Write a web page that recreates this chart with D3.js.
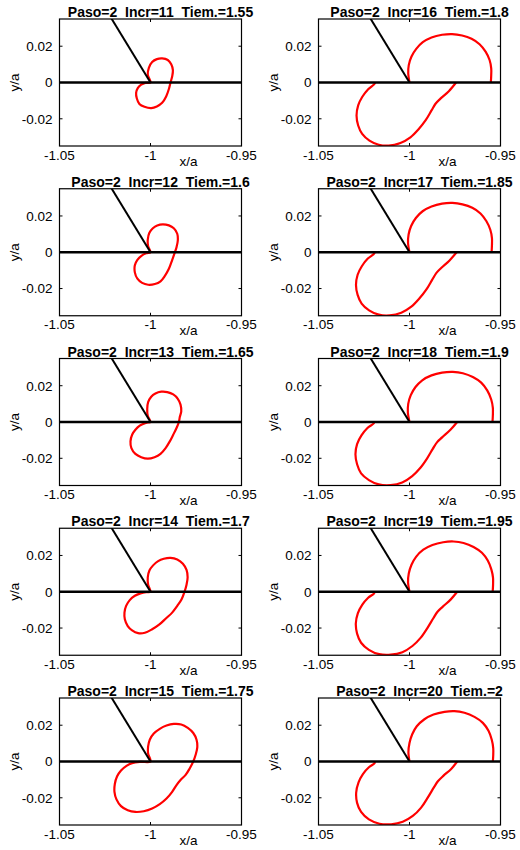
<!DOCTYPE html>
<html>
<head>
<meta charset="utf-8">
<script src="https://cdn.jsdelivr.net/npm/d3@7"></script>
<style>
  body { margin: 0; background: #fff; }
  svg { display: block; font-family: "Liberation Sans", Arial, sans-serif; }
</style>
</head>
<body>
<svg id="chart"></svg>
<script>
const WIDTH = 520
const HEIGHT = 850

const paso = 2
const incrs = [11, 12, 13, 14, 15, 16, 17, 18, 19, 20]
const tiems = ["1.55", "1.6", "1.65", "1.7", "1.75", "1.8", "1.85", "1.9", "1.95", "2"]

const xTicks = [-1.05, -1, -0.95]
const xTickLabels = ["-1.05", "-1", "-0.95"]
const yTicks = [-0.02, 0, 0.02]
const yTickLabels = ["-0.02", "0", "0.02"]

// crack: straight line along y=0 plus the kinked branch from the tip
const crackMain = [[-1.05, 0], [-0.95, 0]]
const crackBranch = [[-1, 0], [-1.0225, 0.037]]

// plastic zone outline, one per increment (x/a, y/a)
const zone11 = [[-1.0000,0.0000],[-1.0015,0.0043],[-1.0009,0.0081],[-0.9991,0.0113],[-0.9965,0.0129],[-0.9936,0.0133],[-0.9905,0.0124],[-0.9886,0.0100],[-0.9877,0.0068],[-0.9881,0.0033],[-0.9890,0.0000],[-0.9899,-0.0036],[-0.9914,-0.0077],[-0.9936,-0.0112],[-0.9965,-0.0132],[-0.9996,-0.0141],[-1.0033,-0.0134],[-1.0061,-0.0118],[-1.0075,-0.0088],[-1.0079,-0.0057],[-1.0070,-0.0031],[-1.0051,-0.0012],[-1.0028,-0.0002]]
const zone12 = [[-1.0000,0.0000],[-1.0013,0.0033],[-1.0015,0.0070],[-1.0006,0.0107],[-0.9987,0.0132],[-0.9963,0.0148],[-0.9932,0.0154],[-0.9899,0.0148],[-0.9872,0.0132],[-0.9853,0.0102],[-0.9850,0.0065],[-0.9857,0.0028],[-0.9866,0.0000],[-0.9881,-0.0043],[-0.9899,-0.0091],[-0.9921,-0.0130],[-0.9945,-0.0160],[-0.9976,-0.0175],[-1.0013,-0.0179],[-1.0046,-0.0169],[-1.0072,-0.0146],[-1.0086,-0.0111],[-1.0086,-0.0072],[-1.0073,-0.0043],[-1.0050,-0.0020],[-1.0024,-0.0006]]
const zone13 = [[-1.0000,0.0000],[-1.0015,0.0035],[-1.0018,0.0072],[-1.0013,0.0109],[-0.9996,0.0139],[-0.9973,0.0157],[-0.9941,0.0167],[-0.9908,0.0165],[-0.9875,0.0152],[-0.9850,0.0128],[-0.9835,0.0096],[-0.9831,0.0059],[-0.9839,0.0028],[-0.9844,0.0000],[-0.9857,-0.0033],[-0.9875,-0.0070],[-0.9894,-0.0107],[-0.9917,-0.0144],[-0.9945,-0.0176],[-0.9978,-0.0194],[-1.0015,-0.0202],[-1.0051,-0.0194],[-1.0083,-0.0176],[-1.0105,-0.0144],[-1.0110,-0.0107],[-1.0101,-0.0070],[-1.0083,-0.0043],[-1.0059,-0.0020],[-1.0037,-0.0009],[-1.0015,-0.0002]]
const zone14 = [[-1.0000,0.0000],[-1.0013,0.0039],[-1.0015,0.0080],[-1.0006,0.0117],[-0.9987,0.0144],[-0.9958,0.0169],[-0.9927,0.0182],[-0.9890,0.0187],[-0.9853,0.0178],[-0.9822,0.0154],[-0.9802,0.0120],[-0.9796,0.0080],[-0.9802,0.0039],[-0.9813,0.0000],[-0.9829,-0.0041],[-0.9853,-0.0078],[-0.9881,-0.0115],[-0.9914,-0.0146],[-0.9951,-0.0180],[-0.9991,-0.0207],[-1.0031,-0.0226],[-1.0068,-0.0228],[-1.0101,-0.0213],[-1.0125,-0.0189],[-1.0141,-0.0152],[-1.0143,-0.0115],[-1.0134,-0.0078],[-1.0114,-0.0046],[-1.0086,-0.0022],[-1.0055,-0.0009],[-1.0024,-0.0002]]
const zone15 = [[-1.0000,0.0000],[-1.0013,0.0043],[-1.0013,0.0083],[-1.0004,0.0120],[-0.9982,0.0154],[-0.9949,0.0180],[-0.9912,0.0198],[-0.9872,0.0207],[-0.9831,0.0204],[-0.9795,0.0185],[-0.9765,0.0157],[-0.9747,0.0120],[-0.9743,0.0078],[-0.9752,0.0037],[-0.9765,0.0000],[-0.9784,-0.0037],[-0.9807,-0.0074],[-0.9835,-0.0102],[-0.9857,-0.0130],[-0.9881,-0.0167],[-0.9912,-0.0204],[-0.9949,-0.0235],[-0.9991,-0.0259],[-1.0037,-0.0274],[-1.0083,-0.0278],[-1.0125,-0.0269],[-1.0162,-0.0246],[-1.0187,-0.0209],[-1.0198,-0.0167],[-1.0196,-0.0124],[-1.0184,-0.0083],[-1.0162,-0.0050],[-1.0132,-0.0024],[-1.0101,-0.0009],[-1.0055,-0.0002]]
const zone16 = [[-1.0000,0.0000],[-1.0007,0.0050],[-1.0004,0.0096],[-0.9989,0.0143],[-0.9963,0.0185],[-0.9927,0.0222],[-0.9879,0.0248],[-0.9821,0.0263],[-0.9766,0.0267],[-0.9711,0.0259],[-0.9659,0.0241],[-0.9615,0.0211],[-0.9582,0.0170],[-0.9560,0.0124],[-0.9551,0.0078],[-0.9551,0.0041],[-0.9553,0.0000],[-0.9744,0.0000],[-0.9784,-0.0048],[-0.9830,-0.0089],[-0.9857,-0.0117],[-0.9879,-0.0154],[-0.9912,-0.0209],[-0.9949,-0.0256],[-0.9995,-0.0302],[-1.0050,-0.0333],[-1.0114,-0.0348],[-1.0169,-0.0343],[-1.0220,-0.0320],[-1.0260,-0.0283],[-1.0282,-0.0237],[-1.0291,-0.0182],[-1.0282,-0.0126],[-1.0260,-0.0080],[-1.0227,-0.0037],[-1.0191,-0.0006],[-1.0191,0.0000]]
const zone17 = [[-1.0000,0.0000],[-1.0008,0.0050],[-1.0005,0.0098],[-0.9991,0.0145],[-0.9965,0.0189],[-0.9928,0.0226],[-0.9879,0.0252],[-0.9821,0.0268],[-0.9764,0.0272],[-0.9709,0.0264],[-0.9655,0.0245],[-0.9610,0.0214],[-0.9578,0.0172],[-0.9556,0.0124],[-0.9547,0.0078],[-0.9547,0.0039],[-0.9549,0.0000],[-0.9741,0.0000],[-0.9780,-0.0045],[-0.9826,-0.0087],[-0.9852,-0.0114],[-0.9875,-0.0151],[-0.9907,-0.0205],[-0.9945,-0.0254],[-0.9990,-0.0300],[-1.0045,-0.0333],[-1.0109,-0.0348],[-1.0169,-0.0344],[-1.0222,-0.0320],[-1.0263,-0.0283],[-1.0285,-0.0235],[-1.0294,-0.0180],[-1.0285,-0.0124],[-1.0262,-0.0077],[-1.0229,-0.0035],[-1.0193,-0.0006],[-1.0193,0.0000]]
const zone18 = [[-1.0000,0.0000],[-1.0009,0.0050],[-1.0007,0.0100],[-0.9993,0.0148],[-0.9967,0.0193],[-0.9930,0.0230],[-0.9879,0.0257],[-0.9821,0.0272],[-0.9762,0.0276],[-0.9707,0.0269],[-0.9652,0.0248],[-0.9606,0.0217],[-0.9573,0.0174],[-0.9551,0.0124],[-0.9542,0.0078],[-0.9542,0.0037],[-0.9544,0.0000],[-0.9738,0.0000],[-0.9775,-0.0043],[-0.9821,-0.0085],[-0.9848,-0.0111],[-0.9872,-0.0148],[-0.9903,-0.0200],[-0.9940,-0.0252],[-0.9985,-0.0298],[-1.0040,-0.0333],[-1.0104,-0.0348],[-1.0169,-0.0344],[-1.0223,-0.0320],[-1.0266,-0.0283],[-1.0288,-0.0233],[-1.0297,-0.0178],[-1.0288,-0.0122],[-1.0264,-0.0074],[-1.0231,-0.0033],[-1.0196,-0.0007],[-1.0196,0.0000]]
const zone19 = [[-1.0000,0.0000],[-1.0008,0.0051],[-1.0004,0.0101],[-0.9989,0.0149],[-0.9963,0.0194],[-0.9924,0.0232],[-0.9874,0.0258],[-0.9815,0.0273],[-0.9758,0.0277],[-0.9703,0.0269],[-0.9648,0.0247],[-0.9602,0.0215],[-0.9570,0.0172],[-0.9550,0.0122],[-0.9541,0.0076],[-0.9541,0.0035],[-0.9543,0.0000],[-0.9738,0.0000],[-0.9773,-0.0042],[-0.9817,-0.0082],[-0.9846,-0.0110],[-0.9869,-0.0146],[-0.9901,-0.0199],[-0.9938,-0.0253],[-0.9984,-0.0299],[-1.0039,-0.0333],[-1.0103,-0.0347],[-1.0167,-0.0344],[-1.0223,-0.0320],[-1.0266,-0.0281],[-1.0288,-0.0231],[-1.0295,-0.0175],[-1.0284,-0.0119],[-1.0260,-0.0072],[-1.0227,-0.0033],[-1.0194,-0.0008],[-1.0194,0.0000]]
const zone20 = [[-1.0000,0.0000],[-1.0006,0.0052],[-1.0000,0.0102],[-0.9985,0.0150],[-0.9960,0.0194],[-0.9918,0.0233],[-0.9868,0.0259],[-0.9808,0.0274],[-0.9753,0.0278],[-0.9698,0.0269],[-0.9643,0.0246],[-0.9597,0.0213],[-0.9566,0.0169],[-0.9548,0.0120],[-0.9540,0.0074],[-0.9540,0.0033],[-0.9542,0.0000],[-0.9738,0.0000],[-0.9771,-0.0041],[-0.9813,-0.0078],[-0.9844,-0.0109],[-0.9866,-0.0143],[-0.9899,-0.0198],[-0.9936,-0.0254],[-0.9982,-0.0300],[-1.0037,-0.0332],[-1.0101,-0.0346],[-1.0165,-0.0343],[-1.0223,-0.0319],[-1.0266,-0.0278],[-1.0288,-0.0228],[-1.0293,-0.0172],[-1.0280,-0.0115],[-1.0256,-0.0069],[-1.0223,-0.0032],[-1.0192,-0.0009],[-1.0192,0.0000]]

const zones = [zone11, zone12, zone13, zone14, zone15, zone16, zone17, zone18, zone19, zone20]

const PW = 182
const PH = 127
const COL_X = [59.5, 318.5]
const ROW_Y0 = 19
const ROW_STEP = 169.75

let svg = d3.select("#chart")
    .attr("width", WIDTH)
    .attr("height", HEIGHT)

let x = d3.scaleLinear().domain([-1.05, -0.95]).range([0, PW])
let y = d3.scaleLinear().domain([-0.035, 0.035]).range([PH, 0])

let line = d3.line()
    .x(d => x(d[0]))
    .y(d => y(d[1]))

let closedLine = d3.line()
    .x(d => x(d[0]))
    .y(d => y(d[1]))
    .curve(d3.curveCatmullRomClosed.alpha(0.5))

let openLine = d3.line()
    .x(d => x(d[0]))
    .y(d => y(d[1]))
    .curve(d3.curveCatmullRom.alpha(0.5))

// where the outline runs along the crack (two consecutive points on y=0)
// it is hidden by the crack, so cut it into open pieces there
function splitOnAxis(pts) {
    let n = pts.length
    let start = -1
    for (let i = 0; i < n; i++) {
        let a = pts[(i - 1 + n) % n], b = pts[i]
        if (a[1] === 0 && b[1] === 0) { start = i; break }
    }
    if (start < 0) return null
    let segs = [], cur = []
    for (let k = 0; k < n; k++) {
        let i = (start + k) % n
        let prev = pts[(i - 1 + n) % n], p = pts[i]
        if (k > 0 && prev[1] === 0 && p[1] === 0) { segs.push(cur); cur = [] }
        cur.push(p)
    }
    segs.push(cur)
    return segs
}

function drawPanel(i) {
    let col = Math.floor(i / 5)
    let row = i % 5
    let g = svg.append("g")
        .attr("transform", `translate(${COL_X[col]},${ROW_Y0 + row * ROW_STEP})`)

    let clipId = "clip" + i
    g.append("clipPath").attr("id", clipId)
        .append("rect").attr("width", PW).attr("height", PH)

    let plot = g.append("g").attr("clip-path", `url(#${clipId})`)

    let segs = splitOnAxis(zones[i])
    let zonePaths = segs ? segs.map(s => openLine(s)) : [closedLine(zones[i])]
    plot.selectAll(".zone").data(zonePaths).enter()
        .append("path")
        .attr("d", d => d)
        .attr("fill", "none")
        .attr("stroke", "#ff0000")
        .attr("stroke-width", 2.2)

    plot.append("path")
        .datum(crackMain)
        .attr("d", line)
        .attr("stroke", "#000")
        .attr("stroke-width", 2.6)

    plot.append("path")
        .datum(crackBranch)
        .attr("d", line)
        .attr("stroke", "#000")
        .attr("stroke-width", 2)

    // box with inward ticks on all sides
    g.append("rect")
        .attr("width", PW).attr("height", PH)
        .attr("fill", "none")
        .attr("stroke", "#000")
        .attr("stroke-width", 1.2)

    xTicks.forEach(t => {
        g.append("line").attr("x1", x(t)).attr("x2", x(t)).attr("y1", PH).attr("y2", PH - 3).attr("stroke", "#000")
        g.append("line").attr("x1", x(t)).attr("x2", x(t)).attr("y1", 0).attr("y2", 3).attr("stroke", "#000")
    })
    yTicks.forEach(t => {
        g.append("line").attr("x1", 0).attr("x2", 3).attr("y1", y(t)).attr("y2", y(t)).attr("stroke", "#000")
        g.append("line").attr("x1", PW).attr("x2", PW - 3).attr("y1", y(t)).attr("y2", y(t)).attr("stroke", "#000")
    })

    g.selectAll(".xtl").data(xTicks).enter()
        .append("text")
        .attr("x", d => x(d))
        .attr("y", PH + 13.5)
        .attr("text-anchor", "middle")
        .attr("font-size", 13.5)
        .text((d, k) => xTickLabels[k])

    g.selectAll(".ytl").data(yTicks).enter()
        .append("text")
        .attr("x", -7)
        .attr("y", d => y(d))
        .attr("dy", "0.36em")
        .attr("text-anchor", "end")
        .attr("font-size", 13.5)
        .text((d, k) => yTickLabels[k])

    g.append("text")
        .attr("x", PW / 2 + 38)
        .attr("y", PH + 19.5)
        .attr("text-anchor", "middle")
        .attr("font-size", 13.5)
        .text("x/a")

    g.append("text")
        .attr("transform", `translate(-40.5,${PH / 2}) rotate(-90)`)
        .attr("text-anchor", "middle")
        .attr("font-size", 13.5)
        .text("y/a")

    g.append("text")
        .attr("x", PW / 2 + 10)
        .attr("y", -2)
        .attr("text-anchor", "middle")
        .attr("font-size", 14)
        .attr("font-weight", "bold")
        .attr("xml:space", "preserve")
        .style("white-space", "pre")
        .text(`Paso=${paso}  Incr=${incrs[i]}  Tiem.=${tiems[i]}`)
}

incrs.forEach((d, i) => drawPanel(i))
</script>
</body>
</html>
